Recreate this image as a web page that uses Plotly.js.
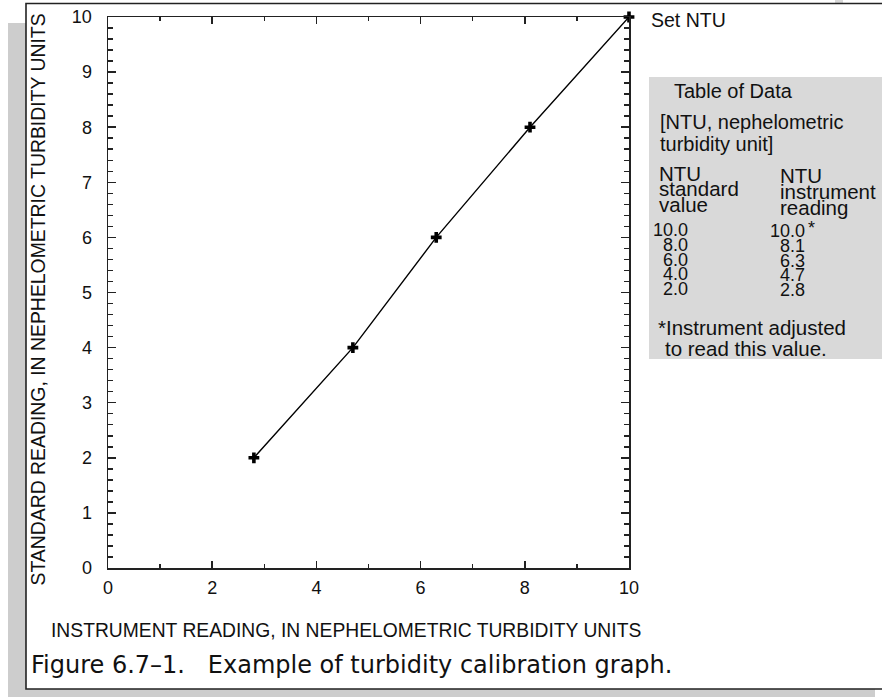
<!DOCTYPE html>
<html><head><meta charset="utf-8">
<script src="https://cdn.plot.ly/plotly-3.0.1.min.js"></script>
<style>html,body{margin:0;padding:0;background:#fff;} #chart{width:882px;height:697px;}</style>
</head><body><div id="chart"></div>
<script>
// ---- data ----
const instrumentReading = [2.8, 4.7, 6.3, 8.1, 10.0];
const standardReading = [2.0, 4.0, 6.0, 8.0, 10.0];
const xTickVals = [0, 2, 4, 6, 8, 10];
const yTickVals = [0, 1, 2, 3, 4, 5, 6, 7, 8, 9, 10];
const xTitle = 'INSTRUMENT READING, IN NEPHELOMETRIC TURBIDITY UNITS';
const yTitle = 'STANDARD READING, IN NEPHELOMETRIC TURBIDITY UNITS';
const caption = 'Figure 6.7\u20131.\u00a0\u00a0\u00a0Example of turbidity calibration graph.';
const pointLabel = 'Set NTU';
const tableTitle = 'Table of Data';
const tableNote = ['[NTU, nephelometric', 'turbidity unit]'];
const colHeadStandard = ['NTU', 'standard', 'value'];
const colHeadInstrument = ['NTU', 'instrument', 'reading'];
const footNote = ['*Instrument adjusted', 'to read this value.'];

// ---- geometry helpers (pixel -> paper) ----
const W = 882, H = 697;
const L = 108, R = 629, T = 17, B = 568;
const px = v => (v - L) / (R - L);
const py = v => (B - v) / (B - T);
const FONT = 'Liberation Sans, Arial, Helvetica, sans-serif';
const INK = '#111';

const shapes = [
  {type:'rect', xref:'paper', yref:'paper', x0:px(8), x1:px(875), y0:py(23), y1:py(697), fillcolor:'#cdcdcd', line:{width:0}, layer:'below'},
  {type:'rect', xref:'paper', yref:'paper', x0:px(835), x1:px(843), y0:py(0), y1:py(4), fillcolor:'#d8d8d8', line:{width:0}, layer:'below'},
  {type:'rect', xref:'paper', yref:'paper', x0:px(26), x1:px(900), y0:py(3.5), y1:py(689), fillcolor:'#ffffff', line:{color:'#222', width:1.6}, layer:'below'},
  {type:'rect', xref:'paper', yref:'paper', x0:px(649), x1:px(890), y0:py(77), y1:py(359), fillcolor:'#d9d9d9', line:{width:0}, layer:'below'}
];

function ann(text, x, y, opts) {
  return Object.assign({text:text, xref:'paper', yref:'paper', x:px(x), y:py(y), showarrow:false,
    xanchor:'left', yanchor:'middle', font:{family:FONT, size:20.5, color:INK}}, opts || {});
}

const annotations = [];
annotations.push(ann(yTitle, 37.5, 300, {textangle:-90, xanchor:'center', font:{family:FONT, size:19.4, color:INK}}));
annotations.push(ann(xTitle, 346, 630, {xanchor:'center', font:{family:FONT, size:19.3, color:INK}}));
annotations.push(ann(caption, 29, 665, {font:{family:'DejaVu Sans, Open Sans, sans-serif', size:24, color:INK}}));
annotations.push(ann(pointLabel, 649, 20, {font:{family:FONT, size:19.5, color:INK}}));
annotations.push(ann(tableTitle, 672, 91, {font:{family:FONT, size:20, color:INK}}));
tableNote.forEach((t, i) => annotations.push(ann(t, 658, 122 + i * 21.5, {font:{family:FONT, size:20, color:INK}})));
colHeadStandard.forEach((t, i) => annotations.push(ann(t, 657, 173 + i * 15.5)));
colHeadInstrument.forEach((t, i) => annotations.push(ann(t, 778, 175 + i * 16)));
const rowsStd = standardReading.slice().reverse();
const rowsIns = instrumentReading.slice().reverse();
const numFont = {family:FONT, size:18, color:INK};
rowsStd.forEach((v, i) => annotations.push(ann(v.toFixed(1), 690, 230 + i * 14.8, {xanchor:'right', font:numFont})));
rowsIns.forEach((v, i) => {
  annotations.push(ann(v.toFixed(1), 807, 231 + i * 14.8, {xanchor:'right', font:numFont}));
  if (i === 0) annotations.push(ann('*', 806, 228, {font:numFont}));
});
footNote.forEach((t, i) => annotations.push(ann(t, 656 + i * 7, 327 + i * 21)));

const trace = {
  x: instrumentReading, y: standardReading, type:'scatter', mode:'lines+markers',
  line:{color:'#000', width:1.4},
  marker:{symbol:'cross', size:9, color:'#000', line:{width:0}},
  cliponaxis:false, hoverinfo:'skip'
};

const axisCommon = {
  showline:true, linecolor:'#222', linewidth:1.5, mirror:'allticks',
  ticks:'inside', tickcolor:'#222', tickwidth:1.5,
  showgrid:false, zeroline:false, fixedrange:true,
  tickfont:{family:FONT, size:18, color:INK}
};

const layout = {
  width:W, height:H,
  margin:{l:L, r:W - R, t:T, b:H - B, pad:0},
  paper_bgcolor:'#ffffff', plot_bgcolor:'rgba(0,0,0,0)',
  showlegend:false,
  xaxis:Object.assign({}, axisCommon, {range:[0,10], tickmode:'array', tickvals:xTickVals, ticktext:xTickVals.map(String), ticklen:7,
    minor:{dtick:1, ticklen:4, tickwidth:1.5, tickcolor:'#222', ticks:'inside'}, ticklabelstandoff:3}),
  yaxis:Object.assign({}, axisCommon, {range:[0,10], tickmode:'array', tickvals:yTickVals, ticktext:yTickVals.map(String), ticklen:8,
    minor:{dtick:0.2, ticklen:5, tickwidth:1.5, tickcolor:'#222', ticks:'inside'}, ticklabelstandoff:11}),
  shapes:shapes,
  annotations:annotations
};

Plotly.newPlot('chart', [trace], layout, {staticPlot:true, displayModeBar:false});
</script></body></html>
